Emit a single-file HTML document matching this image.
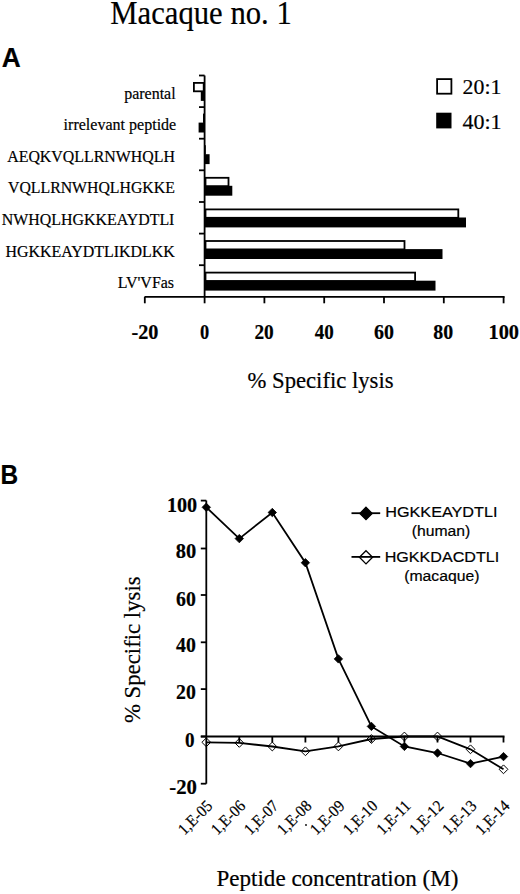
<!DOCTYPE html>
<html><head><meta charset="utf-8"><style>
html,body{margin:0;padding:0;background:#fff;width:520px;height:894px;overflow:hidden}
svg{display:block}
text{fill:#000;stroke:#000;stroke-width:0.2px}
</style></head><body>
<svg width="520" height="894" viewBox="0 0 520 894">
<text transform="translate(110.20 24.20) scale(0.9193 1)" font-family="'Liberation Serif', serif" font-weight="normal" font-size="33.4">Macaque no. 1</text>
<text transform="translate(1.70 67.30) scale(0.9737 1)" font-family="'Liberation Sans', sans-serif" font-weight="bold" font-size="27">A</text>
<text transform="translate(124.20 98.80) scale(0.9239 1)" font-family="'Liberation Serif', serif" font-weight="normal" font-size="17.3">parental</text>
<text transform="translate(63.60 129.80) scale(0.9275 1)" font-family="'Liberation Serif', serif" font-weight="normal" font-size="17.3">irrelevant peptide</text>
<text transform="translate(7.20 161.70) scale(0.9192 1)" font-family="'Liberation Serif', serif" font-weight="normal" font-size="17.3">AEQKVQLLRNWHQLH</text>
<text transform="translate(8.00 193.10) scale(0.9146 1)" font-family="'Liberation Serif', serif" font-weight="normal" font-size="17.3">VQLLRNWHQLHGKKE</text>
<text transform="translate(1.80 224.90) scale(0.9204 1)" font-family="'Liberation Serif', serif" font-weight="normal" font-size="17.3">NWHQLHGKKEAYDTLI</text>
<text transform="translate(5.40 256.90) scale(0.9230 1)" font-family="'Liberation Serif', serif" font-weight="normal" font-size="17.3">HGKKEAYDTLIKDLKK</text>
<text transform="translate(117.70 288.20) scale(0.9230 1)" font-family="'Liberation Serif', serif" font-weight="normal" font-size="17.3">LV&#39;VFas</text>
<text transform="translate(462.60 93.70) scale(0.9918 1)" font-family="'Liberation Serif', serif" font-weight="normal" font-size="22">20:1</text>
<text transform="translate(462.40 129.10) scale(1.0023 1)" font-family="'Liberation Serif', serif" font-weight="normal" font-size="22">40:1</text>
<text transform="translate(131.50 338.70) scale(1.0127 1)" font-family="'Liberation Serif', serif" font-weight="bold" font-size="20">-20</text>
<text transform="translate(200.00 338.70) scale(0.9200 1)" font-family="'Liberation Serif', serif" font-weight="bold" font-size="20">0</text>
<text transform="translate(254.40 338.70) scale(0.9650 1)" font-family="'Liberation Serif', serif" font-weight="bold" font-size="20">20</text>
<text transform="translate(314.80 338.70) scale(0.9500 1)" font-family="'Liberation Serif', serif" font-weight="bold" font-size="20">40</text>
<text transform="translate(374.00 338.70) scale(0.9950 1)" font-family="'Liberation Serif', serif" font-weight="bold" font-size="20">60</text>
<text transform="translate(433.20 338.70) scale(0.9950 1)" font-family="'Liberation Serif', serif" font-weight="bold" font-size="20">80</text>
<text transform="translate(488.48 338.70) scale(1.0207 1)" font-family="'Liberation Serif', serif" font-weight="bold" font-size="20">100</text>
<text transform="translate(247.50 387.50) scale(0.9862 1)" font-family="'Liberation Serif', serif" font-weight="normal" font-size="23">% Specific lysis</text>
<text transform="translate(0.59 484.00) scale(0.9056 1)" font-family="'Liberation Sans', sans-serif" font-weight="bold" font-size="27">B</text>
<text transform="translate(166.94 511.90) scale(0.9600 1)" font-family="'Liberation Serif', serif" font-weight="bold" font-size="21">100</text>
<text transform="translate(175.80 558.10) scale(0.9756 1)" font-family="'Liberation Serif', serif" font-weight="bold" font-size="21">80</text>
<text transform="translate(176.00 605.90) scale(0.9415 1)" font-family="'Liberation Serif', serif" font-weight="bold" font-size="21">60</text>
<text transform="translate(176.00 652.00) scale(0.9415 1)" font-family="'Liberation Serif', serif" font-weight="bold" font-size="21">40</text>
<text transform="translate(176.00 699.30) scale(0.9415 1)" font-family="'Liberation Serif', serif" font-weight="bold" font-size="21">20</text>
<text transform="translate(185.00 746.50) scale(0.9100 1)" font-family="'Liberation Serif', serif" font-weight="bold" font-size="21">0</text>
<text transform="translate(169.30 793.80) scale(0.9893 1)" font-family="'Liberation Serif', serif" font-weight="bold" font-size="21">-20</text>
<text transform="translate(385.23 517.30) scale(1.0670 1)" font-family="'Liberation Sans', sans-serif" font-weight="normal" font-size="15.2">HGKKEAYDTLI</text>
<text transform="translate(411.70 536.30) scale(1.0355 1)" font-family="'Liberation Sans', sans-serif" font-weight="normal" font-size="15.2">(human)</text>
<text transform="translate(384.74 562.30) scale(1.0596 1)" font-family="'Liberation Sans', sans-serif" font-weight="normal" font-size="15.2">HGKKDACDTLI</text>
<text transform="translate(404.20 581.30) scale(1.0367 1)" font-family="'Liberation Sans', sans-serif" font-weight="normal" font-size="15.2">(macaque)</text>
<text transform="translate(216.50 886.40) scale(1.0291 1)" font-family="'Liberation Serif', serif" font-weight="normal" font-size="22.4">Peptide concentration (M)</text>
<text transform="translate(139.8 723.10) rotate(-90) scale(0.9909 1)" font-family="'Liberation Serif', serif" font-size="23">% Specific lysis</text>
<line x1="204.6" y1="75.5" x2="204.6" y2="296.8" stroke="#000" stroke-width="1.8"/>
<line x1="199" y1="75.5" x2="204.6" y2="75.5" stroke="#000" stroke-width="1.8"/>
<line x1="199" y1="107.1" x2="204.6" y2="107.1" stroke="#000" stroke-width="1.8"/>
<line x1="199" y1="138.7" x2="204.6" y2="138.7" stroke="#000" stroke-width="1.8"/>
<line x1="199" y1="170.3" x2="204.6" y2="170.3" stroke="#000" stroke-width="1.8"/>
<line x1="199" y1="202.0" x2="204.6" y2="202.0" stroke="#000" stroke-width="1.8"/>
<line x1="199" y1="233.6" x2="204.6" y2="233.6" stroke="#000" stroke-width="1.8"/>
<line x1="199" y1="265.2" x2="204.6" y2="265.2" stroke="#000" stroke-width="1.8"/>
<line x1="144.6" y1="296.8" x2="504.6" y2="296.8" stroke="#000" stroke-width="1.8"/>
<line x1="144.8" y1="296.8" x2="144.8" y2="303.3" stroke="#000" stroke-width="1.8"/>
<line x1="204.6" y1="296.8" x2="204.6" y2="303.3" stroke="#000" stroke-width="1.8"/>
<line x1="264.4" y1="296.8" x2="264.4" y2="303.3" stroke="#000" stroke-width="1.8"/>
<line x1="324.2" y1="296.8" x2="324.2" y2="303.3" stroke="#000" stroke-width="1.8"/>
<line x1="384.0" y1="296.8" x2="384.0" y2="303.3" stroke="#000" stroke-width="1.8"/>
<line x1="443.8" y1="296.8" x2="443.8" y2="303.3" stroke="#000" stroke-width="1.8"/>
<line x1="503.6" y1="296.8" x2="503.6" y2="303.3" stroke="#000" stroke-width="1.8"/>
<rect x="193.9" y="82.9" width="9.8" height="8.4" fill="#fff" stroke="#000" stroke-width="1.8"/>
<rect x="200.8" y="91.0" width="3.8" height="9.9" fill="#000"/>
<rect x="203.0" y="113.6" width="1.6" height="9.3" fill="#000"/>
<rect x="198.6" y="122.6" width="6.0" height="9.9" fill="#000"/>
<rect x="204.6" y="145.2" width="1.2" height="9.3" fill="#000"/>
<rect x="204.6" y="154.2" width="5.0" height="9.9" fill="#000"/>
<rect x="205.5" y="177.8" width="23.0" height="8.4" fill="#fff" stroke="#000" stroke-width="1.8"/>
<rect x="204.6" y="185.8" width="27.7" height="9.9" fill="#000"/>
<rect x="205.5" y="209.4" width="252.8" height="8.4" fill="#fff" stroke="#000" stroke-width="1.8"/>
<rect x="204.6" y="217.5" width="261.4" height="9.9" fill="#000"/>
<rect x="205.5" y="241.0" width="199.0" height="8.4" fill="#fff" stroke="#000" stroke-width="1.8"/>
<rect x="204.6" y="249.1" width="237.9" height="9.9" fill="#000"/>
<rect x="205.5" y="272.6" width="209.6" height="8.4" fill="#fff" stroke="#000" stroke-width="1.8"/>
<rect x="204.6" y="280.7" width="230.9" height="9.9" fill="#000"/>
<rect x="437.1" y="79.1" width="14.3" height="14.6" fill="#fff" stroke="#000" stroke-width="1.8"/>
<rect x="436.2" y="112.7" width="15.3" height="15.7" fill="#000"/>
<line x1="206.3" y1="500.6" x2="206.3" y2="783.7" stroke="#000" stroke-width="1.8"/>
<line x1="200.8" y1="500.6" x2="206.3" y2="500.6" stroke="#000" stroke-width="1.8"/>
<line x1="200.8" y1="548.5" x2="206.3" y2="548.5" stroke="#000" stroke-width="1.8"/>
<line x1="200.8" y1="595" x2="206.3" y2="595" stroke="#000" stroke-width="1.8"/>
<line x1="200.8" y1="642.3" x2="206.3" y2="642.3" stroke="#000" stroke-width="1.8"/>
<line x1="200.8" y1="689.1" x2="206.3" y2="689.1" stroke="#000" stroke-width="1.8"/>
<line x1="200.8" y1="736.5" x2="206.3" y2="736.5" stroke="#000" stroke-width="1.8"/>
<line x1="200.8" y1="783.7" x2="206.3" y2="783.7" stroke="#000" stroke-width="1.8"/>
<line x1="200.8" y1="736.5" x2="504.5" y2="736.5" stroke="#000" stroke-width="1.8"/>
<line x1="239.3" y1="736.5" x2="239.3" y2="742.5" stroke="#000" stroke-width="1.8"/>
<line x1="272.3" y1="736.5" x2="272.3" y2="742.5" stroke="#000" stroke-width="1.8"/>
<line x1="305.4" y1="736.5" x2="305.4" y2="742.5" stroke="#000" stroke-width="1.8"/>
<line x1="338.4" y1="736.5" x2="338.4" y2="742.5" stroke="#000" stroke-width="1.8"/>
<line x1="371.4" y1="736.5" x2="371.4" y2="742.5" stroke="#000" stroke-width="1.8"/>
<line x1="404.4" y1="736.5" x2="404.4" y2="742.5" stroke="#000" stroke-width="1.8"/>
<line x1="437.5" y1="736.5" x2="437.5" y2="742.5" stroke="#000" stroke-width="1.8"/>
<line x1="470.5" y1="736.5" x2="470.5" y2="742.5" stroke="#000" stroke-width="1.8"/>
<line x1="503.5" y1="736.5" x2="503.5" y2="742.5" stroke="#000" stroke-width="1.8"/>
<polyline points="206.3,742.3 239.3,742.9 272.3,746.5 305.4,751.3 338.4,746.4 371.4,739.0 404.4,736.5 437.5,736.5 470.5,749.3 503.5,769.3" fill="none" stroke="#000" stroke-width="1.8"/>
<polyline points="206.3,507.3 239.3,538.6 272.3,512.5 305.4,562.7 338.4,658.9 371.4,726.4 404.4,746.4 437.5,753.0 470.5,763.6 503.5,756.6" fill="none" stroke="#000" stroke-width="1.8"/>
<path d="M206.3 737.9L210.7 742.3L206.3 746.7L201.9 742.3Z" fill="none" stroke="#000" stroke-width="1.0"/>
<path d="M239.3 738.5L243.7 742.9L239.3 747.3L234.9 742.9Z" fill="none" stroke="#000" stroke-width="1.0"/>
<path d="M272.3 742.1L276.7 746.5L272.3 750.9L267.9 746.5Z" fill="none" stroke="#000" stroke-width="1.0"/>
<path d="M305.4 746.9L309.8 751.3L305.4 755.7L301.0 751.3Z" fill="none" stroke="#000" stroke-width="1.0"/>
<path d="M338.4 742.0L342.8 746.4L338.4 750.8L334.0 746.4Z" fill="none" stroke="#000" stroke-width="1.0"/>
<path d="M371.4 734.6L375.8 739.0L371.4 743.4L367.0 739.0Z" fill="none" stroke="#000" stroke-width="1.0"/>
<path d="M404.4 732.1L408.8 736.5L404.4 740.9L400.0 736.5Z" fill="none" stroke="#000" stroke-width="1.0"/>
<path d="M437.5 732.1L441.9 736.5L437.5 740.9L433.1 736.5Z" fill="none" stroke="#000" stroke-width="1.0"/>
<path d="M470.5 744.9L474.9 749.3L470.5 753.7L466.1 749.3Z" fill="none" stroke="#000" stroke-width="1.0"/>
<path d="M503.5 764.9L507.9 769.3L503.5 773.7L499.1 769.3Z" fill="none" stroke="#000" stroke-width="1.0"/>
<path d="M206.3 503.1L210.5 507.3L206.3 511.5L202.1 507.3Z" fill="#000" stroke="#000" stroke-width="0.8"/>
<path d="M239.3 534.4L243.5 538.6L239.3 542.8L235.1 538.6Z" fill="#000" stroke="#000" stroke-width="0.8"/>
<path d="M272.3 508.3L276.5 512.5L272.3 516.7L268.1 512.5Z" fill="#000" stroke="#000" stroke-width="0.8"/>
<path d="M305.4 558.5L309.6 562.7L305.4 566.9L301.2 562.7Z" fill="#000" stroke="#000" stroke-width="0.8"/>
<path d="M338.4 654.7L342.6 658.9L338.4 663.1L334.2 658.9Z" fill="#000" stroke="#000" stroke-width="0.8"/>
<path d="M371.4 722.2L375.6 726.4L371.4 730.6L367.2 726.4Z" fill="#000" stroke="#000" stroke-width="0.8"/>
<path d="M404.4 742.2L408.6 746.4L404.4 750.6L400.2 746.4Z" fill="#000" stroke="#000" stroke-width="0.8"/>
<path d="M437.5 748.8L441.7 753.0L437.5 757.2L433.3 753.0Z" fill="#000" stroke="#000" stroke-width="0.8"/>
<path d="M470.5 759.4L474.7 763.6L470.5 767.8L466.3 763.6Z" fill="#000" stroke="#000" stroke-width="0.8"/>
<path d="M503.5 752.4L507.7 756.6L503.5 760.8L499.3 756.6Z" fill="#000" stroke="#000" stroke-width="0.8"/>
<line x1="351.5" y1="513.2" x2="380.2" y2="513.2" stroke="#000" stroke-width="1.8"/>
<path d="M366.0 507.1L372.3 513.4L366.0 519.7L359.7 513.4Z" fill="#000" stroke="#000" stroke-width="1.1"/>
<line x1="351.5" y1="556.9" x2="380.2" y2="556.9" stroke="#000" stroke-width="1.8"/>
<path d="M366.0 550.7L372.6 557.3L366.0 563.9L359.4 557.3Z" fill="none" stroke="#000" stroke-width="1.3"/>
<text font-family="'Liberation Serif', serif" font-size="16.5" text-anchor="end" transform="translate(213.4 806.9) rotate(-45) scale(0.92 1)">1,E-05</text>
<text font-family="'Liberation Serif', serif" font-size="16.5" text-anchor="end" transform="translate(246.4 806.9) rotate(-45) scale(0.92 1)">1,E-06</text>
<text font-family="'Liberation Serif', serif" font-size="16.5" text-anchor="end" transform="translate(279.4 806.9) rotate(-45) scale(0.92 1)">1,E-07</text>
<text font-family="'Liberation Serif', serif" font-size="16.5" text-anchor="end" transform="translate(312.5 806.9) rotate(-45) scale(0.92 1)">1,E-08</text>
<text font-family="'Liberation Serif', serif" font-size="16.5" text-anchor="end" transform="translate(345.5 806.9) rotate(-45) scale(0.92 1)">1,E-09</text>
<text font-family="'Liberation Serif', serif" font-size="16.5" text-anchor="end" transform="translate(378.5 806.9) rotate(-45) scale(0.92 1)">1,E-10</text>
<text font-family="'Liberation Serif', serif" font-size="16.5" text-anchor="end" transform="translate(411.5 806.9) rotate(-45) scale(0.92 1)">1,E-11</text>
<text font-family="'Liberation Serif', serif" font-size="16.5" text-anchor="end" transform="translate(444.6 806.9) rotate(-45) scale(0.92 1)">1,E-12</text>
<text font-family="'Liberation Serif', serif" font-size="16.5" text-anchor="end" transform="translate(477.6 806.9) rotate(-45) scale(0.92 1)">1,E-13</text>
<text font-family="'Liberation Serif', serif" font-size="16.5" text-anchor="end" transform="translate(510.6 806.9) rotate(-45) scale(0.92 1)">1,E-14</text>
<circle cx="306" cy="825" r="0.9" fill="#000"/>
</svg>
</body></html>
